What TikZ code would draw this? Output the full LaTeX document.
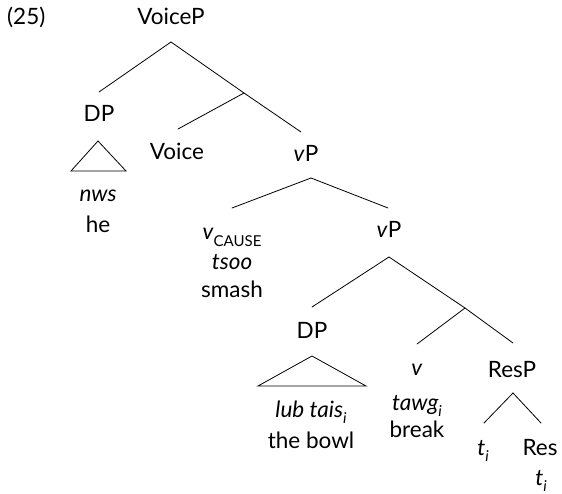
\documentclass[tikz,border=0pt]{standalone}
\usepackage{fontspec}
\setmainfont{Lato}
% lowered small text for indices and feature subscripts
\newcommand\lsub[2][15]{\raisebox{-0.3em}{\fontsize{#1}{#1}\selectfont #2}}
\begin{document}
\begin{tikzpicture}[x=1pt,y=-1pt,
  every node/.style={anchor=base,inner sep=0pt,font=\fontsize{22.5}{26}\selectfont},
  branch/.style={line width=0.8pt,line cap=round},
  roof/.style={line width=0.8pt,line join=miter}]
\useasboundingbox (0,0) rectangle (562,494);

% labels
\node (ex)      at (7,25)  [anchor=base west] {(25)};
\node (voicep)  at (171,25) {VoiceP};
\node (dpa)     at (99,122) {DP};
\node (voice)   at (177,160) {Voice};
\node (vpa)     at (306,162) {\textit{v}P};
\node (nws)     at (98,202) {\textit{nws}};
\node (he)      at (98,233) {he};
\node (vcause)  at (232,240) {\textit{v}\lsub{CAUSE}};
\node (tsoo)    at (232,270) {\textit{tsoo}};
\node (smash)   at (232,298) {smash};
\node (vpb)     at (389,238) {\textit{v}P};
\node (dpb)     at (312,338) {DP};
\node (lub)     at (311,417) {\textit{lub tais\lsub{i}}};
\node (bowl)    at (311,448) {the bowl};
\node (vsmall)  at (417,375) {\textit{v}};
\node (tawg)    at (417,410) {\textit{tawg\lsub{i}}};
\node (break)   at (417,437) {break};
\node (resp)    at (512,377) {ResP};
\node (tra)     at (483,455) {\textit{t\lsub{i}}};
\node (res)     at (540,455) {Res};
\node (trb)     at (541,485) {\textit{t\lsub{i}}};

% branch points and branch ends
\coordinate (voicepB) at (171,42);
\coordinate (dpaT)    at (99,92);
\coordinate (voicebar) at (244,93);
\coordinate (voiceT)  at (178,129);
\coordinate (vpaT)    at (301,132);
\coordinate (vpaB)    at (311,178);
\coordinate (vcauseT) at (232,208);
\coordinate (vpbT)    at (388,208);
\coordinate (vpbB)    at (389,257);
\coordinate (dpbT)    at (312,307);
\coordinate (vbar)    at (465,308);
\coordinate (vsmallT) at (417,344);
\coordinate (respT)   at (513,343);
\coordinate (respB)   at (513,393);
\coordinate (traT)    at (484,423);
\coordinate (resT)    at (541,423);

% branches
\draw[branch] (voicepB) -- (dpaT);
\draw[branch] (voicepB) -- (voicebar) -- (vpaT);
\draw[branch] (voicebar) -- (voiceT);
\draw[branch] (vpaB) -- (vcauseT);
\draw[branch] (vpaB) -- (vpbT);
\draw[branch] (vpbB) -- (dpbT);
\draw[branch] (vpbB) -- (vbar) -- (respT);
\draw[branch] (vbar) -- (vsmallT);
\draw[branch] (respB) -- (traT);
\draw[branch] (respB) -- (resT);

% roofs over unanalysed phrases
\coordinate (roofaT) at (98,141);
\coordinate (roofaL) at (71,171);
\coordinate (roofaR) at (126,171);
\draw[roof] (roofaT) -- (roofaR) -- (roofaL) -- cycle;
\coordinate (roofbT) at (312,356);
\coordinate (roofbL) at (258,386);
\coordinate (roofbR) at (366,386);
\draw[roof] (roofbT) -- (roofbR) -- (roofbL) -- cycle;
\end{tikzpicture}
\end{document}
